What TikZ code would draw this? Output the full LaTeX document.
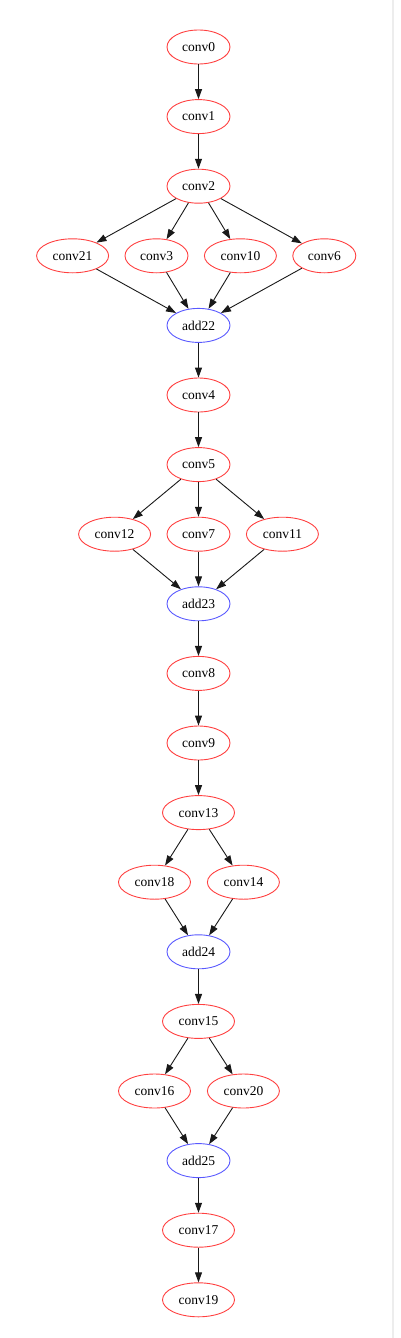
\documentclass[tikz,border=0pt]{standalone}
\usepackage{fontspec}
\setmainfont{Liberation Serif}
\usepackage{tikz}
\usetikzlibrary{arrows.meta, positioning, shapes.geometric}

\begin{document}
\begin{tikzpicture}[
  font=\fontsize{13.5}{16}\selectfont,
  op/.style={ellipse, draw, line width=0.9pt, inner sep=0pt, minimum width=63pt, minimum height=34pt},
  conv/.style={op, draw=red!75},
  convw/.style={conv, minimum width=72pt},
  add/.style={op, draw=blue!65},
  line/.style={-{Triangle[length=10pt, width=7pt]}, line width=0.9pt, black!90},
  node distance=34.7pt
]
\useasboundingbox (0,0) rectangle (400pt,-1338pt);

% Page edge
\draw[black!7, line width=1.2pt] (393pt,0) -- (393pt,-1338pt);

% Stem
\node[conv] (conv0) at (198.5pt,-47pt) {conv0};
\node[conv, below=of conv0] (conv1) {conv1};
\node[conv, below=of conv1] (conv2) {conv2};

% Block 1: four branches
\node[conv, below=of conv2, xshift=-42pt] (conv3) {conv3};
\node[convw, left=15.5pt of conv3] (conv21) {conv21};
\node[convw, right=15.5pt of conv3] (conv10) {conv10};
\node[conv, right=15.5pt of conv10] (conv6) {conv6};
\node[add, below=104.3pt of conv2] (add22) {add22};

\node[conv, below=of add22] (conv4) {conv4};
\node[conv, below=of conv4] (conv5) {conv5};

% Block 2: three branches
\node[conv, below=of conv5] (conv7) {conv7};
\node[convw, left=15.5pt of conv7] (conv12) {conv12};
\node[convw, right=15.5pt of conv7] (conv11) {conv11};
\node[add, below=of conv7] (add23) {add23};

\node[conv, below=of add23] (conv8) {conv8};
\node[conv, below=of conv8] (conv9) {conv9};
\node[convw, below=of conv9] (conv13) {conv13};

% Block 3: two branches
\node[convw, below=of conv13, xshift=-44pt] (conv18) {conv18};
\node[convw, right=16pt of conv18] (conv14) {conv14};
\node[add, below=104.3pt of conv13] (add24) {add24};

\node[convw, below=of add24] (conv15) {conv15};

% Block 4: two branches
\node[convw, below=of conv15, xshift=-44pt] (conv16) {conv16};
\node[convw, right=16pt of conv16] (conv20) {conv20};
\node[add, below=104.3pt of conv15] (add25) {add25};

\node[convw, below=of add25] (conv17) {conv17};
\node[convw, below=of conv17] (conv19) {conv19};

% Connections
\draw[line] (conv0) -- (conv1);
\draw[line] (conv1) -- (conv2);
\draw[line] (conv2) -- (conv21);
\draw[line] (conv2) -- (conv3);
\draw[line] (conv2) -- (conv10);
\draw[line] (conv2) -- (conv6);
\draw[line] (conv21) -- (add22);
\draw[line] (conv3) -- (add22);
\draw[line] (conv10) -- (add22);
\draw[line] (conv6) -- (add22);
\draw[line] (add22) -- (conv4);
\draw[line] (conv4) -- (conv5);
\draw[line] (conv5) -- (conv12);
\draw[line] (conv5) -- (conv7);
\draw[line] (conv5) -- (conv11);
\draw[line] (conv12) -- (add23);
\draw[line] (conv7) -- (add23);
\draw[line] (conv11) -- (add23);
\draw[line] (add23) -- (conv8);
\draw[line] (conv8) -- (conv9);
\draw[line] (conv9) -- (conv13);
\draw[line] (conv13) -- (conv18);
\draw[line] (conv13) -- (conv14);
\draw[line] (conv18) -- (add24);
\draw[line] (conv14) -- (add24);
\draw[line] (add24) -- (conv15);
\draw[line] (conv15) -- (conv16);
\draw[line] (conv15) -- (conv20);
\draw[line] (conv16) -- (add25);
\draw[line] (conv20) -- (add25);
\draw[line] (add25) -- (conv17);
\draw[line] (conv17) -- (conv19);

\end{tikzpicture}
\end{document}
